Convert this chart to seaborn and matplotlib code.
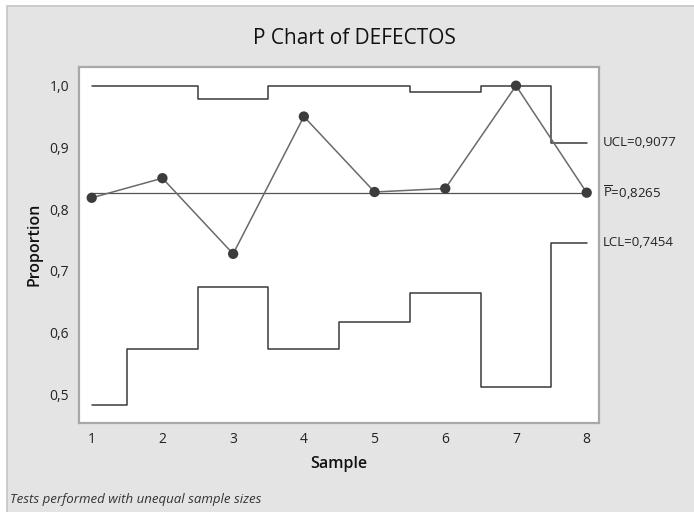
import matplotlib
matplotlib.use("Agg")
import matplotlib.pyplot as plt
import matplotlib.transforms as mtransforms
from matplotlib.patches import Rectangle
import pandas as pd
import seaborn as sns

# --- values ---
samples = [1, 2, 3, 4, 5, 6, 7, 8]
proportion = [0.8182, 0.8500, 0.7273, 0.9500, 0.8276, 0.8333, 1.0000, 0.8265]
ucl = [1.0000, 1.0000, 0.9790, 1.0000, 1.0000, 0.9898, 1.0000, 0.9077]
lcl = [0.4822, 0.5730, 0.6735, 0.5730, 0.6165, 0.6631, 0.5110, 0.7454]
p_bar = 0.8265
yticks = [0.5, 0.6, 0.7, 0.8, 0.9, 1.0]
ytick_labels = ["0,5", "0,6", "0,7", "0,8", "0,9", "1,0"]
limit_labels = ["UCL=0,9077", r"$\overline{\mathrm{P}}$=0,8265", "LCL=0,7454"]
limit_values = [0.9077, 0.8265, 0.7454]

df = pd.DataFrame({"sample": samples, "p": proportion, "ucl": ucl, "lcl": lcl,
                   "center": [p_bar] * len(samples)})

sns.set_style("white")
plt.rcParams["font.family"] = ["Open Sans", "DejaVu Sans"]
plt.rcParams["mathtext.fontset"] = "custom"
plt.rcParams["mathtext.rm"] = "Open Sans"

fig = plt.figure(figsize=(6.94, 5.12), dpi=100)
fig.patch.set_facecolor("white")
# gray Minitab panel (image is slightly cropped at top-left)
fig.patches.append(Rectangle((7 / 694, -0.05), 1, 506 / 512 + 0.05, transform=fig.transFigure,
                             facecolor="#e4e4e4", edgecolor="#c4c4c4", linewidth=1.2,
                             zorder=-10))

ax = fig.add_axes([78.7 / 694, 1 - 422.7 / 512, (599 - 78.7) / 694, (422.7 - 66.7) / 512])
ax.set_facecolor("white")

limit_color = "#3a3a3a"
sns.lineplot(data=df, x="sample", y="ucl", drawstyle="steps-mid", color=limit_color,
             linewidth=1.1, ax=ax)
sns.lineplot(data=df, x="sample", y="lcl", drawstyle="steps-mid", color=limit_color,
             linewidth=1.1, ax=ax)
sns.lineplot(data=df, x="sample", y="center", color="#555555", linewidth=0.9, ax=ax)
sns.lineplot(data=df, x="sample", y="p", color="#6a6a6a", linewidth=1.1, ax=ax)
sns.scatterplot(data=df, x="sample", y="p", color="#3c3c3c", s=55, edgecolor="none",
                zorder=5, ax=ax)

ax.set_xlim(0.816, 8.174)
ax.set_ylim(0.4535, 1.0308)
ax.set_xticks(samples)
ax.set_xticklabels([str(s) for s in samples])
ax.set_yticks(yticks)
ax.set_yticklabels(ytick_labels)
ax.tick_params(axis="both", direction="out", length=4, width=1, color="#a8a8a8",
               labelsize=10, labelcolor="#222222", pad=3)
for sp in ax.spines.values():
    sp.set_color("#a8a8a8")
    sp.set_linewidth(1.6)

ax.set_xlabel("Sample", fontsize=11.5, fontweight="semibold", color="#111111", labelpad=6)
ax.set_ylabel("Proportion", fontsize=11.5, fontweight="semibold", color="#111111", labelpad=5)

trans = mtransforms.blended_transform_factory(ax.transAxes, ax.transData)
for lab, val in zip(limit_labels, limit_values):
    ax.text(1.008, val, lab, transform=trans, ha="left", va="center", fontsize=9.5,
            color="#222222", clip_on=False)

fig.text(354 / 694, 1 - 39 / 512, "P Chart of DEFECTOS", ha="center", va="center",
         fontsize=15, color="#111111")
fig.text(10 / 694, 1 - 499 / 512, "Tests performed with unequal sample sizes",
         ha="left", va="center", fontsize=9.5, style="italic", color="#333333")

fig.savefig("out.png", dpi=100)
